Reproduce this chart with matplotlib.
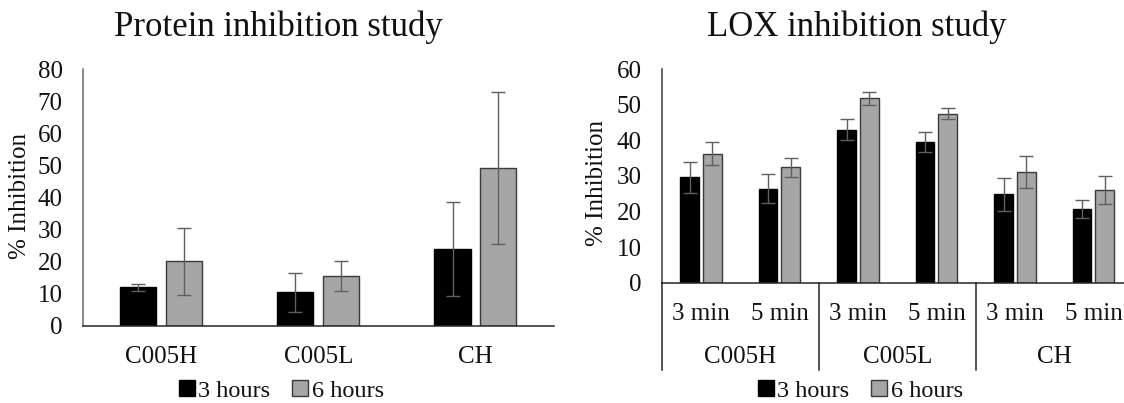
import matplotlib
matplotlib.use("Agg")
import matplotlib.pyplot as plt
import matplotlib.transforms as mtransforms
from matplotlib.patches import Patch
import numpy as np

plt.rcParams['font.family'] = ['Liberation Serif', 'DejaVu Serif']

# ---------------- data ----------------
protein_groups = ["C005H", "C005L", "CH"]
protein_3h = [12.0, 10.5, 24.0]
protein_3h_err = [1.0, 6.0, 14.6]
protein_6h = [20.1, 15.5, 49.2]
protein_6h_err = [10.4, 4.6, 23.6]

lox_groups = ["C005H", "C005L", "CH"]
lox_sub = ["3 min", "5 min", "3 min", "5 min", "3 min", "5 min"]
lox_3h = [29.6, 26.4, 43.0, 39.5, 24.8, 20.7]
lox_3h_err = [4.3, 4.0, 3.0, 2.7, 4.6, 2.4]
lox_6h = [36.2, 32.4, 51.8, 47.5, 31.1, 26.0]
lox_6h_err = [3.2, 2.7, 1.8, 1.5, 4.6, 4.0]

series_labels = ["3 hours", "6 hours"]
protein_yticks = [0, 10, 20, 30, 40, 50, 60, 70, 80]
lox_yticks = [0, 10, 20, 30, 40, 50, 60]

# ---------------- style ----------------
BLACK = "#000000"
GRAY = "#a6a6a6"
GRAY_EDGE = "#3a3a3a"
ERR = "#5f5f5f"
FS = 18
TXT = "#111111"

fig = plt.figure(figsize=(11.24, 4.03), dpi=100)

W, H = 1124.0, 403.0
axL = fig.add_axes([82.7 / W, (H - 326) / H, 471.3 / W, 257 / H])
axR = fig.add_axes([661.7 / W, (H - 282.7) / H, 471.0 / W, 213.7 / H])

err_kw = dict(ecolor=ERR, elinewidth=1.0, capsize=5, capthick=1.0)

# ---------- left chart ----------
xL = np.arange(len(protein_groups))
wL, offL = 0.23, 0.146
axL.bar(xL - offL, protein_3h, wL, yerr=protein_3h_err, color=BLACK,
        edgecolor=BLACK, linewidth=1, error_kw=err_kw, zorder=2)
axL.bar(xL + offL, protein_6h, wL, yerr=protein_6h_err, color=GRAY,
        edgecolor=GRAY_EDGE, linewidth=1, error_kw=err_kw, zorder=2)
axL.set_xlim(-0.5, len(protein_groups) - 0.5)
axL.set_ylim(0, 80)
axL.set_yticks(protein_yticks)
axL.set_xticks([])
axL.tick_params(axis='y', length=0, pad=14.5, labelsize=FS, labelcolor=TXT)
for s in ['top', 'right']:
    axL.spines[s].set_visible(False)
axL.spines['left'].set_color('#6a6a6a')
axL.spines['bottom'].set_color('#262626')
axL.spines['left'].set_linewidth(1.1)
axL.spines['bottom'].set_linewidth(1.1)
transL = mtransforms.blended_transform_factory(axL.transData, axL.transAxes)
for i, g in enumerate(protein_groups):
    axL.text(i, -0.145, g, transform=transL, ha='center', va='baseline',
             fontsize=FS, color=TXT)
axL.text(-0.133, 0.504, "% Inhibition", transform=axL.transAxes, rotation=90,
         ha='center', va='center', fontsize=FS, color=TXT)

# ---------- right chart ----------
xR = np.arange(len(lox_sub))
wR, offR = 0.236, 0.144
axR.bar(xR - offR, lox_3h, wR, yerr=lox_3h_err, color=BLACK,
        edgecolor=BLACK, linewidth=1, error_kw=err_kw, zorder=2)
axR.bar(xR + offR, lox_6h, wR, yerr=lox_6h_err, color=GRAY,
        edgecolor=GRAY_EDGE, linewidth=1, error_kw=err_kw, zorder=2)
axR.set_xlim(-0.5, len(lox_sub) - 0.5)
axR.set_ylim(0, 60)
axR.set_yticks(lox_yticks)
axR.set_xticks([])
axR.tick_params(axis='y', length=0, pad=14.5, labelsize=FS, labelcolor=TXT)
for s in ['top', 'right']:
    axR.spines[s].set_visible(False)
axR.spines['left'].set_color('#3a3a3a')
axR.spines['bottom'].set_color('#262626')
axR.spines['left'].set_linewidth(1.1)
axR.spines['bottom'].set_linewidth(1.1)
transR = mtransforms.blended_transform_factory(axR.transData, axR.transAxes)
for i, s in enumerate(lox_sub):
    axR.text(i, -0.1745, s, transform=transR, ha='center', va='baseline',
             fontsize=FS, color=TXT)
n_sub = len(lox_sub) // len(lox_groups)
for j, g in enumerate(lox_groups):
    center = j * n_sub + (n_sub - 1) / 2.0
    axR.text(center, -0.377, g, transform=transR, ha='center', va='baseline',
             fontsize=FS, color=TXT)
for j in range(len(lox_groups) + 1):
    xb = j * n_sub - 0.5
    axR.plot([xb, xb], [0, -0.4085], transform=transR, color='#262626',
             linewidth=1.1, clip_on=False, zorder=3)
axR.text(-0.137, 0.467, "% Inhibition", transform=axR.transAxes, rotation=90,
         ha='center', va='center', fontsize=FS, color=TXT)

# ---------- titles ----------
fig.text(278 / W, 1 - 27 / H, "Protein inhibition study", ha='center',
         va='center', fontsize=25, color=TXT)
fig.text(857 / W, 1 - 27 / H, "LOX inhibition study", ha='center',
         va='center', fontsize=25, color=TXT)

# ---------- legends ----------
handles = [Patch(facecolor=BLACK, edgecolor=BLACK, linewidth=1),
           Patch(facecolor=GRAY, edgecolor=GRAY_EDGE, linewidth=1)]
for cx in (281.5 / W, 860.5 / W):
    fig.legend(handles, series_labels, loc='center', bbox_to_anchor=(cx, 1 - 391 / H),
               ncol=2, frameon=False, fontsize=17.5, handlelength=0.65,
               handleheight=0.6, handletextpad=0.15, columnspacing=0.9,
               borderpad=0, labelcolor=TXT)

fig.savefig("out.png", dpi=100)
